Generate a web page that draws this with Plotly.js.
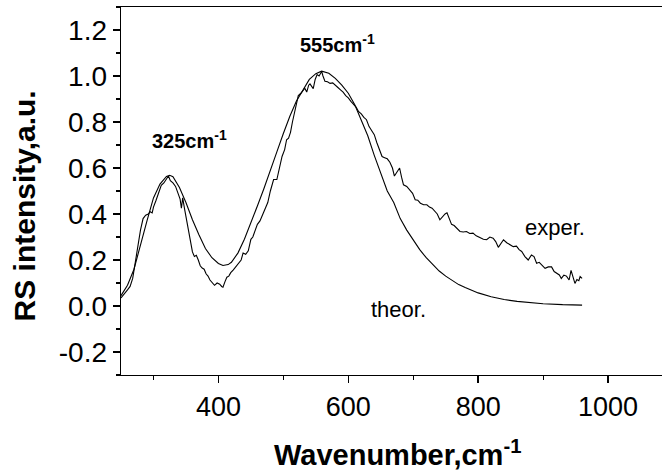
<!DOCTYPE html>
<html>
<head>
<meta charset="utf-8">
<script src="https://cdn.plot.ly/plotly-3.0.1.min.js"></script>
<style>
html,body{margin:0;padding:0;overflow:hidden;background:#fff;}
#chart{width:680px;height:476px;}
</style>
</head>
<body>
<div id="chart"></div>
<script>
// Theoretical curve (smooth)
const theorX = [250,260,270,280,290,300,310,320,325,330,340,350,360,370,380,390,400,407,415,420,430,440,450,460,470,480,490,500,510,520,530,540,550,559,570,580,590,600,610,620,630,640,650,660,670,680,690,700,710,720,730,740,750,760,770,780,790,800,820,840,860,880,900,930,960];
const theorY = [0.045,0.09,0.16,0.27,0.37,0.47,0.53,0.563,0.568,0.562,0.515,0.45,0.375,0.31,0.25,0.21,0.185,0.176,0.18,0.19,0.23,0.29,0.36,0.435,0.51,0.595,0.67,0.75,0.825,0.89,0.94,0.985,1.01,1.021,1.012,0.99,0.96,0.925,0.875,0.81,0.74,0.655,0.575,0.5,0.45,0.38,0.33,0.288,0.245,0.21,0.18,0.152,0.13,0.11,0.093,0.08,0.068,0.057,0.04,0.028,0.02,0.015,0.01,0.006,0.004];

// Experimental curve (noisy)
const experX = [250,255,260,264,268,272,276,280,284,288,292,295,298,300,304,308,312,316,320,323,326,330,334,338,341,343,345,348,351,354,357,360,363,366,369,372,375,378,381,384,387,390,394,398,402,405,407,410,413,416,419,423,427,431,435,438,442,446,450,453,456,460,464,468,472,476,480,482,485,490,494,498,502,505,508,511,514,516,519,523,527,530,533,536,539,541,544,546,549,552,555,557,559,561,564,568,572,576,580,584,588,592,596,600,604,608,612,616,620,624,628,632,636,640,644,648,652,656,660,664,668,671,675,679,682,685,690,695,699,703,707,711,716,721,725,729,733,737,741,745,749,752,755,759,763,767,772,777,782,787,792,797,803,808,813,818,823,827,831,835,839,844,849,854,859,863,867,872,877,882,886,890,894,898,903,908,913,917,921,925,928,932,936,940,943,946,949,952,955,957,960];
const experY = [0.035,0.055,0.07,0.085,0.12,0.19,0.26,0.33,0.38,0.395,0.4,0.41,0.405,0.43,0.46,0.49,0.525,0.535,0.55,0.565,0.545,0.535,0.52,0.49,0.465,0.425,0.47,0.42,0.375,0.32,0.28,0.235,0.215,0.22,0.2,0.175,0.165,0.16,0.14,0.13,0.113,0.105,0.09,0.1,0.095,0.085,0.082,0.105,0.125,0.13,0.145,0.157,0.17,0.186,0.2,0.23,0.225,0.24,0.29,0.3,0.32,0.355,0.37,0.395,0.418,0.45,0.5,0.52,0.55,0.55,0.6,0.65,0.68,0.723,0.73,0.755,0.8,0.825,0.86,0.915,0.925,0.935,0.947,0.93,0.96,0.966,0.955,0.945,0.985,1.006,1.0,1.013,1.02,1.0,0.977,0.975,0.968,0.97,0.958,0.95,0.94,0.93,0.915,0.905,0.89,0.877,0.865,0.845,0.835,0.82,0.81,0.78,0.765,0.745,0.71,0.68,0.65,0.645,0.64,0.625,0.6,0.565,0.58,0.6,0.56,0.527,0.52,0.505,0.49,0.462,0.46,0.447,0.44,0.44,0.43,0.425,0.41,0.4,0.375,0.39,0.4,0.405,0.38,0.355,0.35,0.34,0.324,0.322,0.324,0.315,0.317,0.305,0.298,0.29,0.288,0.3,0.295,0.28,0.255,0.27,0.288,0.275,0.265,0.258,0.26,0.245,0.237,0.215,0.2,0.222,0.215,0.186,0.19,0.18,0.164,0.17,0.17,0.15,0.142,0.135,0.12,0.134,0.13,0.113,0.155,0.125,0.098,0.115,0.11,0.128,0.12];

// Tick labels
const yTickVals = [-0.2, 0.0, 0.2, 0.4, 0.6, 0.8, 1.0, 1.2];
const yTickText = ['-0.2', '0.0', '0.2', '0.4', '0.6', '0.8', '1.0', '1.2'];
const xTickVals = [400, 600, 800, 1000];
const xTickText = ['400', '600', '800', '1000'];

const xTitle = 'Wavenumber,cm<sup>-1</sup>';
const yTitle = 'RS intensity,a.u.';
const peakLabels = ['325cm<sup>-1</sup>', '555cm<sup>-1</sup>'];
const curveLabels = ['exper.', 'theor.'];

const FONT = '"Liberation Sans", Arial, sans-serif';

const traces = [
  {x: theorX, y: theorY, type: 'scatter', mode: 'lines', line: {color: '#000', width: 1.1}, hoverinfo: 'skip', name: 'theor.'},
  {x: experX, y: experY, type: 'scatter', mode: 'lines', line: {color: '#000', width: 1.1}, hoverinfo: 'skip', name: 'exper.'}
];

const layout = {
  width: 680, height: 476,
  margin: {l: 121, r: 7, t: 7, b: 101},
  paper_bgcolor: '#fff', plot_bgcolor: '#fff',
  showlegend: false,
  font: {family: FONT, color: '#000'},
  xaxis: {
    range: [250, 1100], tickmode: 'array', tickvals: xTickVals, ticktext: xTickText,
    showgrid: false, zeroline: false,
    showline: true, linecolor: '#000', linewidth: 1.4, mirror: true,
    ticks: 'outside', ticklen: 7, tickwidth: 1.4, tickcolor: '#000',
    tickfont: {family: FONT, size: 27, color: '#000'},
    minor: {dtick: 100, tick0: 0, ticks: 'outside', ticklen: 4, tickwidth: 1.2, tickcolor: '#000', showgrid: false}
  },
  yaxis: {
    range: [-0.3, 1.3], tickmode: 'array', tickvals: yTickVals, ticktext: yTickText,
    showgrid: false, zeroline: false,
    showline: true, linecolor: '#000', linewidth: 1.4, mirror: true,
    ticks: 'outside', ticklen: 7, tickwidth: 1.4, tickcolor: '#000',
    tickfont: {family: FONT, size: 28, color: '#000'},
    minor: {dtick: 0.1, tick0: 0, ticks: 'outside', ticklen: 4, tickwidth: 1.2, tickcolor: '#000', showgrid: false}
  },
  annotations: [
    {text: yTitle, xref: 'paper', yref: 'paper', x: -0.1757, y: 0.458, textangle: -90,
     showarrow: false, xanchor: 'center', yanchor: 'middle', font: {family: FONT, size: 30, color: '#000', weight: 'bold'}},
    {text: xTitle, xref: 'paper', yref: 'paper', x: 0.2736, y: -0.212,
     showarrow: false, xanchor: 'left', yanchor: 'middle', font: {family: FONT, size: 29, color: '#000', weight: 'bold'}},
    {text: peakLabels[0], xref: 'x', yref: 'y', x: 294, y: 0.725,
     showarrow: false, xanchor: 'left', yanchor: 'middle', font: {family: FONT, size: 20, color: '#000', weight: 'bold'}},
    {text: peakLabels[1], xref: 'x', yref: 'y', x: 522, y: 1.14,
     showarrow: false, xanchor: 'left', yanchor: 'middle', font: {family: FONT, size: 20, color: '#000', weight: 'bold'}},
    {text: curveLabels[0], xref: 'x', yref: 'y', x: 869, y: 0.34,
     showarrow: false, xanchor: 'left', yanchor: 'middle', font: {family: FONT, size: 22, color: '#000'}},
    {text: curveLabels[1], xref: 'x', yref: 'y', x: 632, y: -0.015,
     showarrow: false, xanchor: 'left', yanchor: 'middle', font: {family: FONT, size: 22, color: '#000'}}
  ]
};

Plotly.newPlot('chart', traces, layout, {displayModeBar: false, staticPlot: true});
</script>
</body>
</html>
